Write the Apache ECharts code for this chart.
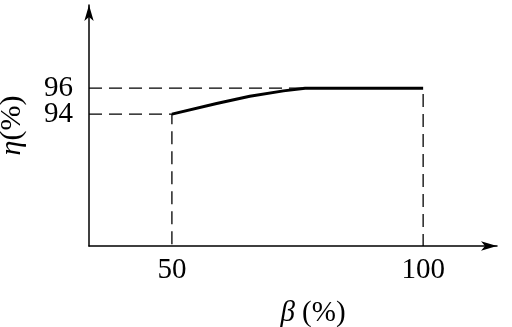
<!DOCTYPE html>
<html style="height: 100%">
<head>
<meta charset="utf-8">
<script src="https://cdn.jsdelivr.net/npm/echarts@6/dist/echarts.min.js"></script>
</head>
<body style="height: 100%; margin: 0; background: #fff">
<div id="container" style="width: 512px; height: 327px"></div>
<script type="text/javascript">
// efficiency curve eta vs load factor beta
var betaVals = [50, 58.9, 65.5, 72.2, 76.5, 100];
var etaVals = [94, 94.82, 95.38, 95.79, 96, 96];

var xTicks = [50, 100];
var yTicksUpper = [96];
var yTicksLower = [94];

// axis extents (origin of the drawing is not at zero)
var xMin = 33.5, xMax = 114.7;
var yMin = 83.85, yMax = 102.4;

var curve = betaVals.map(function (b, i) { return [b, etaVals[i]]; });

// dashed guide lines
var guide96 = [[xMin, 96], [100, 96], [100, yMin]];
var guide94 = [[xMin, 94], [50, 94], [50, yMin]];

var font = '"Liberation Serif", "DejaVu Serif", serif';

var myChart = echarts.init(document.getElementById('container'));
var dash = { color: '#000', width: 1.3, type: [13, 7] };

var option = {
    animation: false,
    backgroundColor: '#fff',
    grid: { left: 89, right: 15, top: 5, bottom: 81, outerBoundsMode: 'none', containLabel: false },
    xAxis: {
        type: 'value',
        min: xMin,
        max: xMax,
        splitLine: { show: false },
        axisTick: { show: false },
        axisLine: {
            onZero: false,
            symbol: ['none', 'arrow'],
            symbolSize: [7, 16],
            lineStyle: { color: '#000', width: 1.5 }
        },
        axisLabel: {
            customValues: xTicks,
            color: '#000',
            fontFamily: font,
            fontSize: 29,
            margin: 10
        },
        name: '{i|β} (%)',
        nameLocation: 'middle',
        nameGap: 53,
        nameTextStyle: {
            color: '#000',
            fontFamily: font,
            fontSize: 29,
            padding: [0, 0, 0, 40],
            rich: { i: { fontStyle: 'italic', fontFamily: font, fontSize: 29, color: '#000' } }
        }
    },
    yAxis: [
        {
            type: 'value',
            min: yMin,
            max: yMax,
            splitLine: { show: false },
            axisTick: { show: false },
            axisLine: {
                onZero: false,
                symbol: ['none', 'arrow'],
                symbolSize: [7, 16],
                lineStyle: { color: '#000', width: 1.5 }
            },
            axisLabel: {
                customValues: yTicksUpper,
                color: '#000',
                fontFamily: font,
                fontSize: 29,
                margin: 16
            },
            name: '{i|η}(%)',
            nameLocation: 'middle',
            nameRotate: 90,
            nameGap: 62,
            nameTextStyle: {
                color: '#000',
                fontFamily: font,
                fontSize: 30,
                rich: { i: { fontStyle: 'italic', fontFamily: font, fontSize: 30, color: '#000' } }
            }
        },
        {
            // second axis only carries the 94 label so it is not hidden by overlap
            type: 'value',
            position: 'left',
            min: yMin,
            max: yMax,
            splitLine: { show: false },
            axisTick: { show: false },
            axisLine: { show: false, onZero: false },
            axisLabel: {
                customValues: yTicksLower,
                color: '#000',
                fontFamily: font,
                fontSize: 29,
                margin: 16,
                padding: [16, 0, 0, 0]
            }
        }
    ],
    series: [
        {
            type: 'line',
            data: guide96,
            symbol: 'none',
            lineStyle: dash
        },
        {
            type: 'line',
            data: guide94,
            symbol: 'none',
            lineStyle: dash
        },
        {
            type: 'line',
            data: curve,
            symbol: 'none',
            lineStyle: { color: '#000', width: 3 }
        }
    ]
};
myChart.setOption(option);
</script>
</body>
</html>
